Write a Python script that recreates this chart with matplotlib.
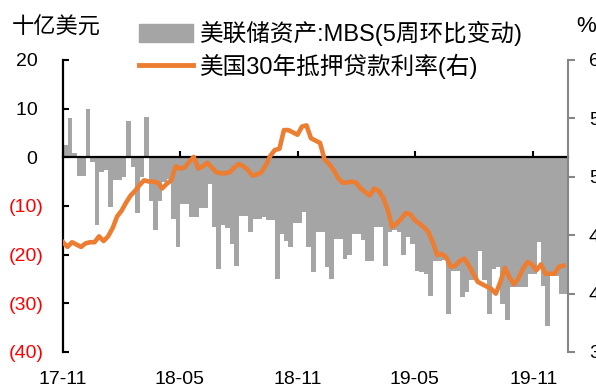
import numpy as np
import pandas as pd
import matplotlib
matplotlib.use('Agg')
import matplotlib.pyplot as plt
import matplotlib.dates as mdates
from matplotlib.patches import Patch
from matplotlib.lines import Line2D

plt.rcParams['font.family'] = ['Liberation Sans', 'Noto Sans CJK SC']

# weekly observations
weeks = pd.date_range('2017-11-01', periods=112, freq='7D')

# Fed MBS holdings, 5-week change (bn USD)
mbs = [2.6, 8.0, 0.8, -3.8, -3.8, 10.0, -1.0, -14.0, -3.0, -2.5,
       -10.2, -4.7, -4.7, -4.0, 7.5, -2.0, -11.5, -4.0, 8.3, -8.9,
       -15.0, -9.0, -5.0, -4.5, -12.6, -18.5, -9.6, -9.6, -12.3, -12.3,
       -10.5, -10.5, -5.4, -14.4, -23.0, -14.0, -14.5, -17.8, -22.3, -12.0,
       -12.0, -15.4, -12.6, -12.6, -12.3, -12.8, -12.8, -25.0, -15.7, -17.1,
       -18.5, -13.4, -13.4, -11.3, -18.5, -23.6, -15.4, -15.4, -22.6, -25.0,
       -16.7, -16.7, -20.8, -20.1, -15.7, -15.7, -17.0, -21.2, -21.2, -14.4,
       -14.4, -22.3, -15.4, -15.0, -15.4, -20.0, -16.4, -17.8, -23.3, -23.6,
       -24.0, -28.4, -21.2, -21.2, -21.0, -32.2, -23.3, -23.3, -28.8, -27.7,
       -25.3, -25.3, -19.2, -25.3, -32.2, -23.0, -22.6, -30.1, -33.5, -26.7,
       -26.7, -26.7, -26.7, -24.0, -24.0, -17.4, -26.5, -34.6, -24.3, -24.3,
       -28.0, -28.0]

# 30-year mortgage rate (%)
rate = [4.44, 4.40, 4.44, 4.42, 4.40, 4.43, 4.44, 4.44, 4.49, 4.45,
        4.49, 4.56, 4.66, 4.71, 4.78, 4.84, 4.88, 4.93, 4.97, 4.96,
        4.96, 4.95, 4.90, 4.94, 4.97, 5.09, 5.07, 5.08, 5.13, 5.17,
        5.07, 5.09, 5.12, 5.08, 5.04, 5.03, 5.03, 5.04, 5.08, 5.11,
        5.09, 5.06, 5.01, 5.02, 5.04, 5.10, 5.18, 5.23, 5.24, 5.40,
        5.40, 5.38, 5.36, 5.43, 5.44, 5.33, 5.31, 5.29, 5.15, 5.11,
        5.06, 4.99, 4.95, 4.95, 4.96, 4.95, 4.90, 4.87, 4.84, 4.90,
        4.88, 4.82, 4.72, 4.57, 4.60, 4.64, 4.69, 4.68, 4.63, 4.60,
        4.57, 4.53, 4.44, 4.33, 4.34, 4.31, 4.23, 4.24, 4.28, 4.30,
        4.24, 4.17, 4.10, 4.08, 4.06, 4.04, 4.00, 4.10, 4.22, 4.14,
        4.08, 4.13, 4.21, 4.27, 4.25, 4.20, 4.25, 4.17, 4.17, 4.17,
        4.23, 4.24]

left_ticks = [-40, -30, -20, -10, 0, 10, 20]
right_ticks = [3.5, 4.0, 4.5, 5.0, 5.5, 6.0]

bar_color = '#A5A5A5'
line_color = '#ED7D31'
axis_gray = '#868686'

fig = plt.figure(figsize=(5.96, 3.89), dpi=100)
ax = fig.add_axes([63 / 596, 37 / 389, 505 / 596, 292 / 389])

# slightly wider than a week so neighbouring bars don't leave hairline gaps
ax.bar(weeks, mbs, width=7.4, align='edge', color=bar_color, linewidth=0)
ax.set_xlim(pd.Timestamp('2017-11-01'), pd.Timestamp('2019-12-25'))
ax.set_ylim(-40, 20)
ax.set_yticks(left_ticks)
ax.set_yticklabels([f'({-v})' if v < 0 else f'{v} ' for v in left_ticks])
for lbl, v in zip(ax.get_yticklabels(), left_ticks):
    lbl.set_color('red' if v < 0 else 'black')

ax.xaxis.set_major_locator(mdates.MonthLocator(bymonth=[5, 11]))
ax.xaxis.set_major_formatter(mdates.DateFormatter('%y-%m'))

# zero line doubles as the x axis
ax.spines['bottom'].set_position(('data', 0))
ax.spines['bottom'].set_linewidth(1.6)
ax.spines['left'].set_linewidth(1.6)
ax.spines['top'].set_visible(False)
ax.spines['right'].set_visible(False)
ax.tick_params(axis='y', direction='in', length=4, width=1.5, pad=14, labelsize=14)
ax.tick_params(axis='x', direction='in', length=4, width=1.5, labelbottom=False)

ax2 = ax.twinx()
ax2.plot(weeks, rate, color=line_color, lw=3.3, solid_joinstyle='round')
ax2.set_ylim(3.5, 6.0)
ax2.set_yticks(right_ticks)
ax2.set_yticklabels([f'{v:.1f}' for v in right_ticks])
for s in ['left', 'top', 'bottom']:
    ax2.spines[s].set_visible(False)
ax2.spines['right'].set_color(axis_gray)
ax2.spines['right'].set_linewidth(1.5)
ax2.tick_params(axis='y', direction='out', length=5, width=1.5, color=axis_gray,
                pad=10, labelsize=14)

# date labels sit along the bottom edge
ax2.xaxis.set_visible(True)
ax2.tick_params(axis='x', bottom=True, length=0, pad=14, labelbottom=True, labelsize=14)

fig.text(12 / 596, 1 - 28 / 389, '十亿美元', fontsize=16, ha='left', va='center')
fig.text(576 / 596, 1 - 26 / 389, '%', fontsize=16, ha='left', va='center')

handles = [Patch(color=bar_color), Line2D([], [], color=line_color, lw=3.5)]
labels = ['美联储资产:MBS(5周环比变动)', '美国30年抵押贷款利率(右)']
fig.legend(handles, labels, loc='upper left', bbox_to_anchor=(139 / 596, 1 - 21 / 389),
           frameon=False, fontsize=17, handlelength=2.3, handleheight=0.8,
           handletextpad=0.3, labelspacing=0.3, borderpad=0, borderaxespad=0)

fig.savefig('out.png', dpi=100)
